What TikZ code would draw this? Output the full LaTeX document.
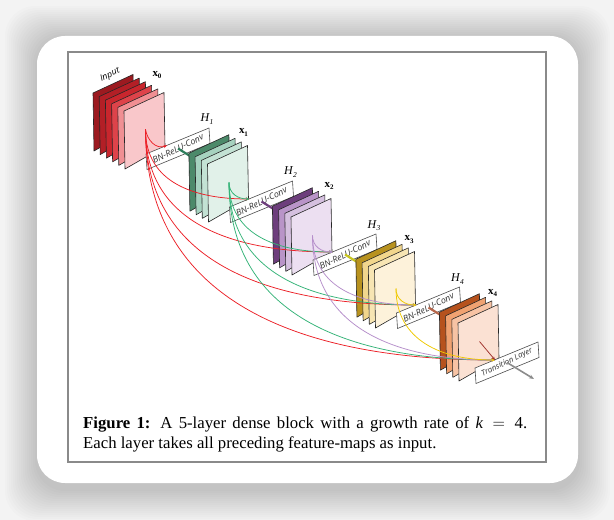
\documentclass[tikz,border=0pt]{standalone}
\usepackage{fontspec}
\setmainfont{Liberation Serif}
\newfontfamily\labfont{Open Sans}
\usetikzlibrary{arrows.meta}

\definecolor{bgcol}{HTML}{F3F3F3}
\definecolor{framecol}{HTML}{8A8A8A}
\definecolor{inA}{HTML}{9C1A20}
\definecolor{inB}{HTML}{B31F26}
\definecolor{inC}{HTML}{C9262D}
\definecolor{inD}{HTML}{DE434A}
\definecolor{inE}{HTML}{F08F93}
\definecolor{inF}{HTML}{F9C7CA}
\definecolor{grA}{HTML}{4C8A6A}
\definecolor{grB}{HTML}{A6D2BF}
\definecolor{grC}{HTML}{C3E2D4}
\definecolor{grD}{HTML}{E1F1E9}
\definecolor{puA}{HTML}{6D3E7C}
\definecolor{puB}{HTML}{B994C8}
\definecolor{puC}{HTML}{D5C0DF}
\definecolor{puD}{HTML}{ECDFF1}
\definecolor{goA}{HTML}{B8921F}
\definecolor{goB}{HTML}{F1D68C}
\definecolor{goC}{HTML}{F7E5B3}
\definecolor{goD}{HTML}{FDF2DA}
\definecolor{orA}{HTML}{B6521D}
\definecolor{orB}{HTML}{F0A271}
\definecolor{orC}{HTML}{F7C3A4}
\definecolor{orD}{HTML}{FBE1D3}
\definecolor{lkred}{HTML}{EC2027}
\definecolor{lkgreen}{HTML}{33B377}
\definecolor{lkpurple}{HTML}{B68FCB}
\definecolor{lkyellow}{HTML}{EFC900}
\definecolor{lkdark}{HTML}{A0302A}
\definecolor{fdgreen}{HTML}{2E7D5B}
\definecolor{fdpurple}{HTML}{6D3E7C}
\definecolor{fdyellow}{HTML}{C7C41E}
\definecolor{fdorange}{HTML}{B5654A}
\definecolor{fdgray}{HTML}{8C8C8C}

% one feature map: top-left corner at (#1,#2)
\newcommand\fmap[3]{\filldraw[fmapline, fill=#3] ({#1},{#2}) -- ++(40,18.5) -- ++(1,-53.5) -- ++(-40,-23) -- cycle;}
% layer box: top-left corner coordinate name #1
\newcommand\layerframe[1]{\draw[lbox] (#1) -- ++(63,26) -- ++(1,-15.5) -- ++(-63,-26) -- cycle;}

\tikzset{
  fmapline/.style={draw=black!85, line width=0.6bp, line join=round},
  lbox/.style={draw=black!70, fill=white, line width=0.6bp, line join=round},
  lboxtext/.style={font=\labfont\itshape\fontsize{8.8}{9}\selectfont, rotate=26, inner sep=0, text=black!80},
  feed/.style={line width=2.2bp, line cap=butt},
  link/.style={line width=0.75bp, looseness=1.1, -{Stealth[length=3.5bp,width=3bp]}},
  hlab/.style={font=\fontsize{12}{12}\selectfont, inner sep=0},
  xlab/.style={font=\fontsize{11}{11}\selectfont, inner sep=0},
}

\begin{document}
\begin{tikzpicture}[x=1bp,y=1bp]
\useasboundingbox (0,0) rectangle (614,-520);
\fill[bgcol] (0,0) rectangle (614,-520);
% soft shadow of the card
\foreach \i in {1,...,16}
  \fill[black, opacity=0.011, rounded corners=30bp] ({37-2*\i},{-38+2*\i}) rectangle ({578+2*\i},{-489-2*\i});
% card and frame
\fill[white, rounded corners=28bp] (37,-36) rectangle (578,-483);
\draw[framecol, line width=1.2bp] (68,-52) rectangle (546,-462);

% anchor points
\coordinate (B0) at (124,-111);
\coordinate (B1) at (207.5,-164);
\coordinate (B2) at (291,-217);
\coordinate (B3) at (374.5,-270);
\coordinate (B4) at (458,-323);
\coordinate (L1) at (146,-154);
\coordinate (L2) at (229.5,-207);
\coordinate (L3) at (313,-260);
\coordinate (L4) at (396.5,-313);
\coordinate (L5) at (475,-368);
\coordinate (S0) at (145.5,-129.5);
\coordinate (S1) at (229,-182.5);
\coordinate (S2) at (312.5,-235.5);
\coordinate (S3) at (396,-288.5);
\coordinate (S4) at (479.5,-341.5);
\coordinate (T1) at (167,-145.5);
\coordinate (T2) at (249.5,-199);
\coordinate (T3) at (333,-252);
\coordinate (T4) at (416.5,-305);
\coordinate (T5) at (495,-360);
\coordinate (C1) at (178,-148.5);
\coordinate (C2) at (261.5,-201.5);
\coordinate (C3) at (345,-254.5);
\coordinate (C4) at (428.5,-307.5);
\coordinate (C5) at (507,-362.5);
\coordinate (E1) at (190,-156);
\coordinate (E2) at (273.5,-209);
\coordinate (E3) at (357,-262);
\coordinate (E4) at (440.5,-315);
\coordinate (E5) at (534,-379);

% input block (6 maps)
\begin{scope}[shift={(B0)}]
  \fmap{-31}{18}{inA}
  \fmap{-24.8}{14.4}{inB}
  \fmap{-18.6}{10.8}{inC}
  \fmap{-12.4}{7.2}{inD}
  \fmap{-6.2}{3.6}{inE}
  \fmap{0}{0}{inF}
\end{scope}

% H1
\layerframe{L1}
\node[lboxtext] (h1box) at (C1) {BN-ReLU-Conv};
\draw[feed, fdgreen] (C1) -- (E1);

% block x1
\begin{scope}[shift={(B1)}]
  \fmap{-18.6}{10.8}{grA}
  \fmap{-12.4}{7.2}{grB}
  \fmap{-6.2}{3.6}{grC}
  \fmap{0}{0}{grD}
\end{scope}

% H2
\layerframe{L2}
\node[lboxtext] (h2box) at (C2) {BN-ReLU-Conv};
\draw[feed, fdpurple] (C2) -- (E2);

\begin{scope}[shift={(B2)}]
  \fmap{-18.6}{10.8}{puA}
  \fmap{-12.4}{7.2}{puB}
  \fmap{-6.2}{3.6}{puC}
  \fmap{0}{0}{puD}
\end{scope}

% H3
\layerframe{L3}
\node[lboxtext] (h3box) at (C3) {BN-ReLU-Conv};
\draw[feed, fdyellow] (C3) -- (E3);

\begin{scope}[shift={(B3)}]
  \fmap{-18.6}{10.8}{goA}
  \fmap{-12.4}{7.2}{goB}
  \fmap{-6.2}{3.6}{goC}
  \fmap{0}{0}{goD}
\end{scope}

% H4
\layerframe{L4}
\node[lboxtext] (h4box) at (C4) {BN-ReLU-Conv};
\draw[feed, fdorange] (C4) -- (E4);

\begin{scope}[shift={(B4)}]
  \fmap{-18.6}{10.8}{orA}
  \fmap{-12.4}{7.2}{orB}
  \fmap{-6.2}{3.6}{orC}
  \fmap{0}{0}{orD}
\end{scope}

% transition layer
\layerframe{L5}
\node[lboxtext, font=\labfont\itshape\fontsize{7.9}{8}\selectfont] (trbox) at (C5) {Transition Layer};

% labels
\node[font=\labfont\itshape\fontsize{8.8}{9}\selectfont, rotate=24, inner sep=0] (inputlab) at (110,-75) {Input};
\node[xlab] (x0) at (157,-75) {\textbf{x}\raisebox{-0.45ex}{\fontsize{7}{7}\selectfont\textbf{0}}};
\node[xlab] (x1) at (243.5,-132.5) {\textbf{x}\raisebox{-0.45ex}{\fontsize{7}{7}\selectfont\textbf{1}}};
\node[xlab] (x2) at (329,-186) {\textbf{x}\raisebox{-0.45ex}{\fontsize{7}{7}\selectfont\textbf{2}}};
\node[xlab] (x3) at (409,-239.5) {\textbf{x}\raisebox{-0.45ex}{\fontsize{7}{7}\selectfont\textbf{3}}};
\node[xlab] (x4) at (492.5,-293) {\textbf{x}\raisebox{-0.45ex}{\fontsize{7}{7}\selectfont\textbf{4}}};
\node[hlab] (H1) at (207,-119) {\textit{H}\raisebox{-0.45ex}{\fontsize{7.5}{7.5}\selectfont\textit{1}}};
\node[hlab] (H2) at (290.5,-172) {\textit{H}\raisebox{-0.45ex}{\fontsize{7.5}{7.5}\selectfont\textit{2}}};
\node[hlab] (H3) at (374,-225.5) {\textit{H}\raisebox{-0.45ex}{\fontsize{7.5}{7.5}\selectfont\textit{3}}};
\node[hlab] (H4) at (457.5,-279) {\textit{H}\raisebox{-0.45ex}{\fontsize{7.5}{7.5}\selectfont\textit{4}}};

% dense connections
\draw[link, lkred] (S0) to[out=-80,in=200] (T1);
\draw[link, lkred] (S0) to[out=-90,in=180] (T2);
\draw[link, lkred] (S0) to[out=-90,in=180] (T3);
\draw[link, lkred] (S0) to[out=-90,in=180] (T4);
\draw[link, lkred] (S0) to[out=-90,in=180] (T5);
\draw[link, lkgreen] (S1) to[out=-90,in=180] (T2);
\draw[link, lkgreen] (S1) to[out=-90,in=180] (T3);
\draw[link, lkgreen] (S1) to[out=-90,in=180] (T4);
\draw[link, lkgreen] (S1) to[out=-90,in=180] (T5);
\draw[link, lkpurple] (S2) to[out=-90,in=180] (T3);
\draw[link, lkpurple] (S2) to[out=-90,in=180] (T4);
\draw[link, lkpurple] (S2) to[out=-90,in=180] (T5);
\draw[link, lkyellow] (S3) to[out=-90,in=180] (T4);
\draw[link, lkyellow] (S3) to[out=-90,in=180] (T5);
\draw[link, lkdark] (S4) -- (T5);
% output of transition layer
\draw[line width=1.6bp, fdgray, -{Stealth[length=5bp,width=4bp]}] (C5) -- (E5);

% caption
\node[anchor=north west, text width=444bp, align=justify, inner sep=0,
      font=\fontsize{16.8}{20}\selectfont] (caption) at (83,-417)
  {\textbf{Figure 1:} A 5-layer dense block with a growth rate of $\mbox{\itshape k} = \mbox{4}$.\linebreak Each layer takes all preceding feature-maps as input.};
\end{tikzpicture}
\end{document}
